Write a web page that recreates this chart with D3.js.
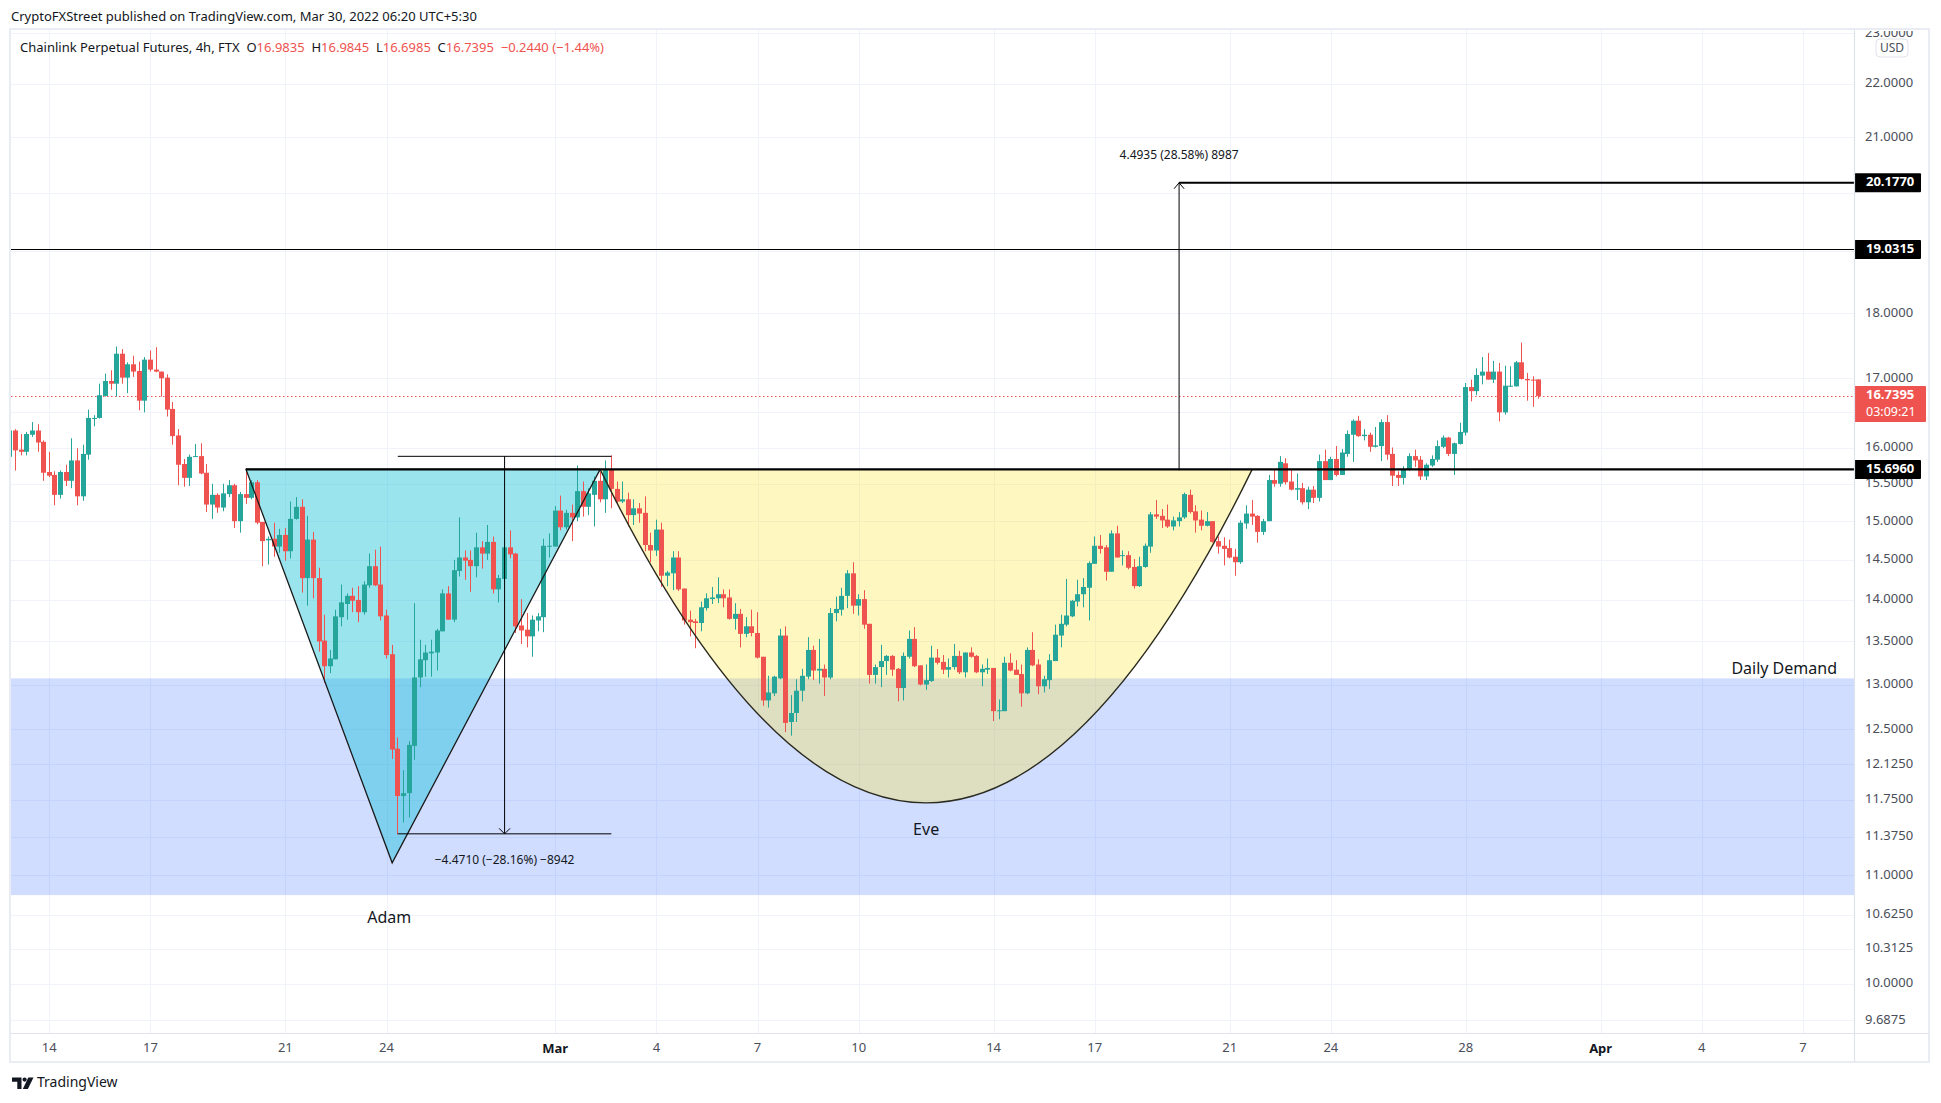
<!DOCTYPE html>
<html><head><meta charset="utf-8">
<script src="https://cdn.jsdelivr.net/npm/d3@7"></script>
<style>
html,body{margin:0;padding:0;background:#fff;}
svg{display:block;font-family:"Noto Sans",sans-serif;}
</style></head><body>
<svg id="c" width="1941" height="1103"></svg>
<script>
// ---------- DATA (4h candles, Chainlink Perpetual Futures, FTX) ----------
const firstBar = "2022-02-12T21:30";   // chart-local time of first bar
const barHours = 4;
const openP = [
15.87,16.24,15.97,15.94,16.18,16.24,16.08,15.66,15.62,15.35,
15.66,15.54,15.82,15.33,15.90,16.41,16.42,16.74,16.96,16.92,
17.37,17.01,17.21,17.11,16.67,17.28,17.13,17.10,17.01,16.55,
16.17,15.77,15.58,15.87,15.88,15.65,15.22,15.35,15.18,15.36,
15.48,15.00,15.36,15.31,15.52,14.99,14.75,14.77,14.67,14.82,
14.61,15.03,15.19,14.27,14.76,14.27,13.51,13.21,13.29,13.79,
13.95,14.05,14.00,13.85,14.18,14.42,14.19,13.81,13.35,12.29,
11.79,11.82,12.32,13.08,13.28,13.36,13.37,13.62,14.08,13.76,
14.36,14.53,14.50,14.42,14.66,14.58,14.73,14.13,14.26,14.66,
14.58,13.69,13.64,13.56,13.75,13.79,14.67,14.67,15.14,14.92,
15.11,15.05,15.40,15.19,15.35,15.54,15.29,15.69,15.43,15.26,
15.29,15.08,15.17,15.11,14.69,14.62,14.89,14.30,14.33,14.53,
14.14,13.76,13.74,13.72,13.90,14.01,14.02,14.07,14.03,13.77,
13.83,13.59,13.68,13.60,13.32,12.82,12.90,13.07,13.57,12.58,
12.68,12.93,13.09,13.40,13.16,13.18,13.08,13.84,13.88,14.05,
14.33,13.93,14.01,13.71,13.11,13.20,13.27,13.33,13.18,12.96,
13.32,13.53,13.22,13.00,13.04,13.31,13.26,13.17,13.20,13.33,
13.14,13.37,13.33,13.14,13.17,13.19,12.70,12.70,13.25,13.17,
13.12,12.90,13.40,13.23,12.98,13.05,13.27,13.57,13.70,13.80,
13.98,14.07,14.15,14.45,14.68,14.66,14.35,14.84,14.55,14.56,
14.41,14.17,14.41,14.67,15.09,15.07,15.02,14.93,15.00,15.05,
15.35,15.13,15.02,14.94,15.00,14.74,14.68,14.65,14.54,14.47,
14.97,15.10,15.07,14.86,15.00,15.55,15.50,15.78,15.53,15.42,
15.44,15.25,15.42,15.31,15.81,15.55,15.84,15.62,15.91,16.18,
16.38,16.16,16.18,16.01,16.02,16.36,15.91,15.62,15.58,15.69,
15.88,15.83,15.60,15.75,15.83,16.01,16.14,15.91,16.05,16.21,
16.87,16.81,17.04,17.10,16.98,17.10,16.50,16.88,16.88,17.24,
16.99,16.98,16.9835];
const highP = [
16.26,16.26,16.19,16.22,16.36,16.33,16.10,15.94,15.67,15.68,
15.76,16.13,15.99,16.04,16.54,16.46,16.92,17.07,17.12,17.48,
17.44,17.24,17.34,17.25,17.32,17.42,17.47,17.10,17.06,16.65,
16.26,15.84,15.90,16.05,16.06,15.77,15.50,15.37,15.50,15.55,
15.50,15.39,15.71,15.55,15.55,14.99,14.80,14.98,14.90,14.91,
15.26,15.32,15.29,15.07,14.86,14.40,13.82,13.40,13.88,14.19,
14.08,14.15,14.17,14.23,14.58,14.63,14.67,13.88,13.46,12.41,
12.06,12.37,13.96,13.52,13.46,13.52,13.65,14.13,14.17,14.50,
15.05,14.62,14.62,14.85,14.74,14.95,14.80,14.31,14.74,14.88,
14.59,14.01,13.84,13.81,13.84,14.77,14.84,15.20,15.34,15.15,
15.22,15.75,15.53,15.44,15.60,15.66,15.82,15.89,15.53,15.53,
15.38,15.29,15.24,15.33,14.85,15.02,14.98,14.36,14.61,14.61,
14.14,13.87,13.77,13.98,14.08,14.16,14.28,14.13,14.13,13.96,
13.89,13.79,13.88,13.85,13.32,13.10,13.10,13.65,13.68,12.88,
13.06,13.18,13.55,13.45,13.53,13.23,13.90,14.04,14.15,14.37,
14.47,14.07,14.12,13.71,13.23,13.46,13.34,13.34,13.19,13.37,
13.63,13.67,13.22,13.23,13.45,13.41,13.34,13.30,13.47,13.39,
13.37,13.43,13.34,13.23,13.30,13.19,12.83,13.32,13.36,13.28,
13.23,13.43,13.61,13.29,13.10,13.35,13.70,13.82,14.26,14.00,
14.25,14.27,14.48,14.80,14.82,14.69,14.88,14.94,14.62,14.61,
14.51,14.54,14.71,15.12,15.28,15.16,15.22,15.06,15.12,15.38,
15.42,15.21,15.14,15.12,15.00,14.80,14.79,14.76,14.64,15.01,
15.21,15.28,15.08,15.03,15.62,15.69,15.88,15.85,15.70,15.64,
15.51,15.46,15.47,15.90,15.97,15.87,16.02,15.98,16.24,16.40,
16.45,16.26,16.21,16.29,16.40,16.46,16.00,15.67,15.74,15.92,
15.97,15.88,15.78,15.89,16.10,16.17,16.15,16.07,16.35,16.93,
16.98,17.15,17.32,17.38,17.26,17.23,17.19,17.18,17.26,17.54,
17.08,17.03,16.9845];
const lowP = [
15.85,15.68,15.89,15.89,16.15,15.94,15.54,15.59,15.21,15.30,
15.47,15.44,15.21,15.27,15.83,16.30,16.41,16.73,16.83,16.73,
16.92,16.78,17.02,16.53,16.50,17.10,17.09,16.73,16.44,16.04,
15.48,15.46,15.47,15.87,15.63,15.12,15.03,15.11,15.13,15.32,
14.91,14.85,15.23,15.29,14.96,14.42,14.44,14.54,14.59,14.49,
14.52,15.02,14.09,13.93,14.02,13.38,13.02,13.13,13.29,13.68,
13.76,13.85,13.73,13.82,14.15,14.17,13.75,13.30,12.18,11.40,
11.52,11.57,12.17,12.97,13.09,13.09,13.16,13.62,13.76,13.73,
14.29,14.25,14.10,14.28,14.39,14.50,14.08,13.97,14.18,14.52,
13.60,13.47,13.43,13.32,13.62,13.61,14.53,14.67,14.88,14.89,
14.74,15.00,15.06,15.08,14.93,15.25,15.11,15.17,15.24,15.24,
14.93,14.95,14.98,14.61,14.47,14.55,14.16,14.17,14.12,14.11,
13.70,13.56,13.42,13.62,13.87,13.95,13.96,13.91,13.76,13.64,
13.43,13.55,13.56,13.30,12.76,12.74,12.87,13.06,12.47,12.43,
12.58,12.81,13.06,13.05,13.01,12.87,13.06,13.74,13.81,13.90,
13.83,13.81,13.65,13.01,13.01,12.97,13.11,13.10,12.81,12.82,
13.30,13.20,12.99,12.94,13.03,13.23,13.12,13.08,13.17,13.12,
13.08,13.31,13.13,12.98,13.12,12.59,12.61,12.70,13.15,13.11,
12.75,12.89,13.21,12.89,12.91,12.95,13.27,13.43,13.68,13.79,
13.92,13.91,13.75,14.45,14.58,14.24,14.35,14.53,14.43,14.38,
14.14,14.16,14.40,14.59,15.03,14.91,14.91,14.88,14.93,15.03,
15.10,14.85,14.88,14.93,14.72,14.58,14.43,14.52,14.30,14.45,
14.90,14.95,14.72,14.82,15.00,15.46,15.46,15.49,15.41,15.28,
15.22,15.16,15.24,15.26,15.55,15.55,15.60,15.62,15.87,15.80,
16.15,16.10,15.94,16.00,15.81,15.83,15.47,15.47,15.49,15.68,
15.73,15.55,15.55,15.73,15.80,15.99,15.88,15.62,16.04,16.17,
16.66,16.75,16.91,16.98,16.93,16.37,16.47,16.87,16.88,16.98,
16.67,16.58,16.6985];
const closeP = [
16.24,15.96,15.94,16.19,16.24,16.07,15.65,15.61,15.35,15.66,
15.54,15.82,15.33,15.91,16.42,16.42,16.75,16.96,16.92,17.37,
17.01,17.21,17.10,16.67,17.28,17.13,17.10,17.00,16.54,16.16,
15.76,15.58,15.87,15.88,15.64,15.22,15.35,15.18,15.37,15.48,
15.00,15.36,15.31,15.52,14.98,14.74,14.77,14.67,14.82,14.61,
15.03,15.19,14.27,14.76,14.27,13.50,13.21,13.30,13.80,13.97,
14.05,13.99,13.85,14.19,14.42,14.18,13.80,13.34,12.28,11.79,
11.82,12.33,13.08,13.29,13.37,13.38,13.63,14.08,13.76,14.37,
14.53,14.49,14.42,14.66,14.58,14.73,14.13,14.27,14.66,14.57,
13.68,13.63,13.56,13.76,13.80,14.68,14.68,15.14,14.92,15.11,
15.05,15.40,15.19,15.37,15.54,15.29,15.69,15.43,15.26,15.29,
15.08,15.17,15.10,14.69,14.62,14.89,14.30,14.34,14.53,14.13,
13.75,13.73,13.72,13.91,14.02,14.03,14.07,14.02,13.77,13.83,
13.59,13.68,13.60,13.31,12.82,12.91,13.09,13.57,12.57,12.68,
12.93,13.10,13.40,13.16,13.18,13.08,13.84,13.89,14.05,14.33,
13.93,14.01,13.70,13.11,13.20,13.27,13.33,13.17,12.96,13.33,
13.53,13.21,13.00,13.05,13.31,13.25,13.17,13.20,13.33,13.14,
13.37,13.32,13.14,13.18,13.19,12.70,12.71,13.25,13.16,13.11,
12.90,13.40,13.22,12.98,13.06,13.28,13.58,13.71,13.81,13.99,
14.07,14.16,14.46,14.68,14.64,14.35,14.84,14.53,14.56,14.40,
14.17,14.42,14.68,15.09,15.06,15.01,14.93,15.01,15.05,15.36,
15.12,15.01,14.94,15.00,14.73,14.67,14.64,14.53,14.47,14.98,
15.10,15.06,14.86,15.00,15.55,15.50,15.80,15.52,15.42,15.44,
15.25,15.42,15.31,15.81,15.55,15.84,15.62,15.93,16.19,16.38,
16.16,16.18,16.01,16.03,16.36,15.90,15.61,15.58,15.70,15.88,
15.82,15.60,15.76,15.84,16.02,16.14,15.91,16.06,16.22,16.87,
16.81,17.05,17.10,16.98,17.10,16.50,16.89,16.89,17.24,16.99,
16.97,16.97,16.7395];

// axis ticks
const dayTicks = ["2022-02-14","2022-02-17","2022-02-21","2022-02-24","2022-03-01","2022-03-04","2022-03-07","2022-03-10","2022-03-14","2022-03-17","2022-03-21","2022-03-24","2022-03-28","2022-04-01","2022-04-04","2022-04-07"];
const dayLabels = ["14","17","21","24","Mar","4","7","10","14","17","21","24","28","Apr","4","7"];
const priceTicks = [23,22,21,20,19,18,17,16.5,16,15.5,15,14.5,14,13.5,13,12.5,12.125,11.75,11.375,11,10.625,10.3125,10,9.6875];

// drawings (bar index, price)
const demandZone = [13.07, 10.81];
const necklinePrice = 15.696;
const necklineStartBar = 42;
const resistanceLevel = 19.0315;
const targetLevel = 20.177;
const adamTriangle = [[42, 15.696], [68, 11.12], [105, 15.696]];
const eveArc = [[105, 15.696], [163, 11.72], [221, 15.696]];
const adamMeasureBars = [69, 107];
const adamMeasurePrices = [15.877, 11.406];
const adamMeasureLabel = "\u22124.4710 (\u221228.16%) \u22128942";
const eveMeasureBar = 208;
const eveMeasurePrices = [15.6835, 20.177];
const eveMeasureLabel = "4.4935 (28.58%) 8987";
const lastPrice = 16.7395;
const countdown = "03:09:21";
const headerTitle = "CryptoFXStreet published on TradingView.com, Mar 30, 2022 06:20 UTC+5:30";
const symbolName = "Chainlink Perpetual Futures, 4h, FTX";
const ohlcLast = [["O","16.9835"],["H","16.9845"],["L","16.6985"],["C","16.7395"]];
const lastChange = "\u22120.2440 (\u22121.44%)";

// ---------- LAYOUT ----------
const UP = "#26A69A", DN = "#EF5350";
const plot = {l: 11, t: 30, r: 1854, b: 1033};
const axisR = 1929, bottomB = 1062;
const T = s => new Date(s + ":00Z");
const t0 = T(firstBar);
const barTime = i => new Date(t0.getTime() + i * barHours * 3600e3);
const x = d3.scaleUtc().domain([T("2022-02-14T01:30"), T("2022-04-07T01:30")]).range([49.3, 1803]);
const xb = i => x(barTime(i));
const y = d3.scaleLog().domain([10, 22]).range([984, 84]);

const svg = d3.select("#c");
const defs = svg.append("defs");
defs.append("clipPath").attr("id", "plotclip").append("rect")
  .attr("x", plot.l).attr("y", plot.t).attr("width", plot.r - plot.l).attr("height", plot.b - plot.t);
defs.append("clipPath").attr("id", "axclip").append("rect")
  .attr("x", plot.r).attr("y", plot.t + 1).attr("width", axisR - plot.r).attr("height", plot.b - plot.t - 1);

svg.append("rect").attr("width", 1941).attr("height", 1103).attr("fill", "#fff");

const g = svg.append("g").attr("clip-path", "url(#plotclip)");

// grid
const tickTimes = dayTicks.map(d => T(d + "T01:30"));
g.append("g").selectAll("line").data(priceTicks).join("line")
  .attr("x1", plot.l).attr("x2", plot.r)
  .attr("y1", d => Math.round(y(d)) + 0.5).attr("y2", d => Math.round(y(d)) + 0.5)
  .attr("stroke", "#F0F3FA").attr("stroke-width", 1);
g.append("g").selectAll("line").data(tickTimes).join("line")
  .attr("y1", plot.t).attr("y2", plot.b)
  .attr("x1", d => Math.round(x(d)) + 0.5).attr("x2", d => Math.round(x(d)) + 0.5)
  .attr("stroke", "#F0F3FA").attr("stroke-width", 1);

// demand zone
g.append("rect").attr("x", plot.l).attr("width", plot.r - plot.l)
  .attr("y", y(demandZone[0])).attr("height", y(demandZone[1]) - y(demandZone[0]))
  .attr("fill", "rgba(41,98,255,0.22)");

// triangle fill
const triPts = adamTriangle.map(([b, p]) => [xb(b), y(p)]);
g.append("path").attr("d", "M" + triPts.map(p => p.join(",")).join("L") + "Z")
  .attr("fill", "rgba(15,190,214,0.42)").attr("stroke", "none");

// arc fill
const arcP = eveArc.map(([b, p]) => [xb(b), y(p)]);
const ctrlY = 2 * arcP[1][1] - arcP[0][1];
const arcD = `M${arcP[0][0]},${arcP[0][1]} Q${arcP[1][0]},${ctrlY} ${arcP[2][0]},${arcP[2][1]}`;
g.append("path").attr("d", arcD + "Z").attr("fill", "rgba(255,227,38,0.29)").attr("stroke", "none");

// current price dotted line
g.append("line").attr("x1", plot.l).attr("x2", plot.r)
  .attr("y1", Math.round(y(lastPrice)) + 0.5).attr("y2", Math.round(y(lastPrice)) + 0.5)
  .attr("stroke", DN).attr("stroke-width", 1).attr("stroke-dasharray", "1.5,2.5");

// candles
const idx = d3.range(openP.length);
const cg = g.append("g");
idx.forEach(i => {
  const cx = xb(i);
  const X = Math.round(cx - 2.5);
  const up = closeP[i] >= openP[i];
  const col = up ? UP : DN;
  cg.append("line").attr("x1", X + 2.5).attr("x2", X + 2.5)
    .attr("y1", y(highP[i])).attr("y2", y(lowP[i])).attr("stroke", col).attr("stroke-width", 1);
  const yt = y(Math.max(openP[i], closeP[i])), yb2 = y(Math.min(openP[i], closeP[i]));
  cg.append("rect").attr("x", X).attr("width", 5)
    .attr("y", yt).attr("height", Math.max(1, yb2 - yt)).attr("fill", col);
});

// drawing lines
const lg = g.append("g").attr("fill", "none").attr("stroke", "#000");
lg.append("line").attr("x1", plot.l).attr("x2", plot.r)
  .attr("y1", Math.round(y(resistanceLevel)) + 0.5).attr("y2", Math.round(y(resistanceLevel)) + 0.5).attr("stroke-width", 1.2);
lg.append("line").attr("x1", xb(eveMeasureBar)).attr("x2", plot.r)
  .attr("y1", y(targetLevel)).attr("y2", y(targetLevel)).attr("stroke-width", 2);
lg.append("path").attr("d", "M" + triPts.map(p => p.join(",")).join("L") + "Z").attr("stroke-width", 1.3).attr("stroke", "#1a1a1a");
lg.append("path").attr("d", arcD).attr("stroke-width", 1.4).attr("stroke", "#2b2a1e");
lg.append("line").attr("x1", xb(necklineStartBar)).attr("x2", plot.r)
  .attr("y1", y(necklinePrice)).attr("y2", y(necklinePrice)).attr("stroke-width", 2.4);

// adam measure
const amx1 = xb(adamMeasureBars[0]), amx2 = xb(adamMeasureBars[1]), amxm = (amx1 + amx2) / 2;
const amy1 = y(adamMeasurePrices[0]), amy2 = y(adamMeasurePrices[1]);
lg.append("line").attr("x1", amx1).attr("x2", amx2).attr("y1", amy1).attr("y2", amy1).attr("stroke-width", 1);
lg.append("line").attr("x1", amx1).attr("x2", amx2).attr("y1", amy2).attr("y2", amy2).attr("stroke-width", 1);
lg.append("line").attr("x1", amxm).attr("x2", amxm).attr("y1", amy1).attr("y2", amy2).attr("stroke-width", 1);
lg.append("path").attr("d", `M${amxm - 5.5},${amy2 - 5.5}L${amxm},${amy2}L${amxm + 5.5},${amy2 - 5.5}`).attr("stroke-width", 1);

// eve measure
const emx = xb(eveMeasureBar), emy1 = y(eveMeasurePrices[0]), emy2 = y(eveMeasurePrices[1]);
lg.append("line").attr("x1", emx).attr("x2", emx).attr("y1", emy1).attr("y2", emy2).attr("stroke-width", 1);
lg.append("path").attr("d", `M${emx - 5},${emy2 + 6}L${emx},${emy2}L${emx + 5},${emy2 + 6}`).attr("stroke-width", 1);

// texts in plot
const tg = g.append("g").attr("fill", "#131722");
tg.append("text").attr("x", amxm).attr("y", amy2 + 27).attr("text-anchor", "middle")
  .attr("dominant-baseline", "middle").attr("font-size", 12).text(adamMeasureLabel);
tg.append("text").attr("x", emx).attr("y", emy2 - 27).attr("text-anchor", "middle")
  .attr("dominant-baseline", "middle").attr("font-size", 12).text(eveMeasureLabel);
tg.append("text").attr("x", triPts[1][0] - 3).attr("y", triPts[1][1] + 56).attr("text-anchor", "middle")
  .attr("dominant-baseline", "middle").attr("font-size", 16).text("Adam");
tg.append("text").attr("x", arcP[1][0]).attr("y", arcP[1][1] + 28).attr("text-anchor", "middle")
  .attr("dominant-baseline", "middle").attr("font-size", 16).text("Eve");
tg.append("text").attr("x", 1837).attr("y", y(demandZone[0]) - 9).attr("text-anchor", "end")
  .attr("dominant-baseline", "middle").attr("font-size", 16).text("Daily Demand");

// ---------- AXES ----------
// tags: [price, fill, lines]
const tags = [
  [targetLevel, "#000", [targetLevel.toFixed(4)]],
  [resistanceLevel, "#000", [resistanceLevel.toFixed(4)]],
  [necklinePrice, "#000", [necklinePrice.toFixed(4)]],
  [lastPrice, DN, [lastPrice.toFixed(4), countdown]]
];
const tagBox = ([p, f, lines]) => {
  const cy = y(p);
  return lines.length === 1 ? [cy - 9.5, cy + 9.5] : [cy - 10, cy + 26];
};
const visibleTicks = priceTicks.filter(p => {
  const ty = y(p);
  return tags.every(t => { const [a, b] = tagBox(t); return ty < a - 2 || ty > b + 2; });
});
const ax = svg.append("g").attr("clip-path", "url(#axclip)");
ax.append("g").selectAll("text").data(visibleTicks).join("text")
  .attr("x", 1865).attr("y", d => y(d)).attr("dominant-baseline", "middle")
  .attr("font-size", 13).attr("fill", "#4a4e59").text(d => d.toFixed(4));

tags.forEach(t => {
  const [p, fill, lines] = t;
  const [top, bot] = tagBox(t);
  svg.append("rect").attr("x", plot.r).attr("y", top).attr("width", lines.length === 1 ? 67 : 72).attr("height", bot - top)
    .attr("fill", fill).attr("rx", 1);
  lines.forEach((s, k) => {
    svg.append("text").attr("x", 1866).attr("y", top + 9.5 + k * 17).attr("dominant-baseline", "middle")
      .attr("font-size", k === 0 ? 13 : 12.5).attr("font-weight", k === 0 ? "bold" : "normal").attr("fill", "#fff").text(s);
  });
});

// USD box
svg.append("rect").attr("x", 1876).attr("y", 39).attr("width", 32).attr("height", 18).attr("rx", 4)
  .attr("fill", "#fff").attr("stroke", "#E0E3EB");
svg.append("text").attr("x", 1892).attr("y", 48.5).attr("text-anchor", "middle").attr("dominant-baseline", "middle")
  .attr("font-size", 12).attr("fill", "#4a4e59").text("USD");

// x axis labels
svg.append("g").selectAll("text").data(tickTimes).join("text")
  .attr("x", d => x(d)).attr("y", 1049).attr("text-anchor", "middle").attr("dominant-baseline", "middle")
  .attr("font-size", 13)
  .attr("font-weight", (d, i) => (dayLabels[i] === "Mar" || dayLabels[i] === "Apr") ? "bold" : "normal")
  .attr("fill", (d, i) => (dayLabels[i] === "Mar" || dayLabels[i] === "Apr") ? "#131722" : "#4a4e59")
  .text((d, i) => dayLabels[i]);

// frame
const fr = svg.append("g").attr("stroke", "#E0E3EB").attr("fill", "none");
fr.append("rect").attr("x", plot.l - 1).attr("y", plot.t - 1).attr("width", axisR - plot.l + 1).attr("height", bottomB - plot.t + 1).attr("stroke-width", 2).attr("stroke", "#E9ECF2");
fr.append("line").attr("x1", plot.r + 0.5).attr("x2", plot.r + 0.5).attr("y1", plot.t).attr("y2", bottomB).attr("stroke-width", 1.2);
fr.append("line").attr("x1", plot.l).attr("x2", axisR).attr("y1", plot.b + 0.5).attr("y2", plot.b + 0.5).attr("stroke-width", 1.2);

// header
svg.append("text").attr("x", 11).attr("y", 17.5).attr("dominant-baseline", "middle")
  .attr("font-size", 13).attr("fill", "#131722").text(headerTitle);
const h2 = svg.append("text").attr("x", 20).attr("y", 48.5).attr("dominant-baseline", "middle")
  .attr("font-size", 13).attr("fill", "#131722").style("white-space", "pre");
h2.append("tspan").text(symbolName + "  ");
ohlcLast.forEach(([k, v]) => {
  h2.append("tspan").attr("fill", "#131722").text(k);
  h2.append("tspan").attr("fill", DN).text(v + "  ");
});
h2.append("tspan").attr("fill", DN).text(lastChange);

// TradingView logo
const lgo = svg.append("g").attr("fill", "#131722");
lgo.append("path").attr("d", "M12,1077.5h9.5v11.5h-4.2v-7.3h-5.3z");
lgo.append("circle").attr("cx", 24.6).attr("cy", 1079.6).attr("r", 2.1);
lgo.append("path").attr("d", "M28.3,1077.5h5.2l-5.6,11.5h-5.1z");
svg.append("text").attr("x", 37).attr("y", 1083.5).attr("dominant-baseline", "middle")
  .attr("font-size", 14).attr("fill", "#131722").text("TradingView");
</script>
</body></html>
